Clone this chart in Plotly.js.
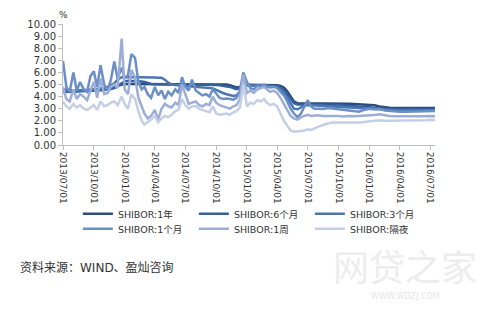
<!DOCTYPE html>
<html>
<head>
<meta charset="utf-8">
<script src="https://cdn.plot.ly/plotly-3.0.1.min.js"></script>
<style>html,body{margin:0;padding:0;background:#fff;}#chart{width:500px;height:309px;}</style>
</head>
<body>
<div id="chart"></div>
<script>
var dates = [
"2013-07-01","2013-07-11","2013-07-21","2013-08-01","2013-08-11","2013-08-21","2013-09-01","2013-09-11","2013-09-21",
"2013-10-01","2013-10-11","2013-10-21","2013-11-01","2013-11-11","2013-11-21","2013-12-01","2013-12-11","2013-12-23",
"2014-01-01","2014-01-11","2014-01-21","2014-02-01","2014-02-11","2014-02-21","2014-03-01","2014-03-11","2014-03-21",
"2014-04-01","2014-04-11","2014-04-21","2014-05-01","2014-05-11","2014-05-21","2014-06-01","2014-06-11","2014-06-21",
"2014-07-01","2014-07-11","2014-07-21","2014-08-01","2014-08-11","2014-08-21","2014-09-01","2014-09-11","2014-09-21",
"2014-10-01","2014-10-11","2014-10-21","2014-11-01","2014-11-11","2014-11-21","2014-12-01","2014-12-11","2014-12-21",
"2015-01-01","2015-01-11","2015-01-21","2015-02-01","2015-02-11","2015-02-21","2015-03-01","2015-03-11","2015-03-21",
"2015-04-01","2015-04-11","2015-04-21","2015-05-01","2015-05-11","2015-05-21","2015-06-01","2015-06-11","2015-06-21",
"2015-07-01","2015-07-11","2015-07-21","2015-08-01","2015-08-16","2015-09-01","2015-09-16","2015-10-01","2015-10-16",
"2015-11-01","2015-11-16","2015-12-01","2015-12-16","2016-01-01","2016-01-16","2016-02-01","2016-02-16","2016-03-01",
"2016-03-16","2016-04-01","2016-04-16","2016-05-01","2016-05-16","2016-06-01","2016-06-16","2016-07-01","2016-07-15"
];

var shibor1y = [
4.40,4.40,4.42,4.45,4.45,4.48,4.50,4.50,4.52,4.55,4.55,4.58,
4.62,4.65,4.68,4.75,4.90,5.00,
5.05,5.05,5.05,5.05,5.05,5.05,5.05,5.05,5.05,5.05,5.05,5.05,
5.05,5.05,5.05,5.05,5.05,5.05,5.05,5.05,5.05,5.05,5.05,5.04,5.03,5.03,5.03,5.02,5.02,5.00,5.00,4.95,4.85,
4.75,4.80,4.95,
4.98,4.98,4.98,4.98,4.97,4.97,4.95,4.95,4.95,4.93,4.88,4.75,
4.45,4.00,3.60,3.45,3.45,3.45,3.45,3.45,3.43,
3.45,3.45,3.44,3.43,3.42,3.42,3.40,3.38,3.36,3.35,3.33,3.28,3.18,3.10,3.08,3.06,3.05,3.05,3.05,3.05,3.05,3.05,3.05,3.05
];
var shibor6m = [
4.38,4.38,4.40,4.42,4.42,4.45,4.45,4.46,4.48,4.50,4.50,4.52,
4.55,4.58,4.62,4.70,4.85,5.10,
5.25,5.30,5.30,5.30,5.28,5.25,5.20,5.10,5.05,5.02,5.00,5.00,
5.00,5.00,5.00,5.00,5.00,5.00,5.00,5.00,5.00,5.00,5.00,4.98,4.98,4.98,4.97,4.95,4.93,4.90,4.88,4.80,4.70,
4.62,4.70,4.92,
4.95,4.93,4.92,4.92,4.92,4.92,4.90,4.90,4.88,4.85,4.75,4.55,
4.20,3.80,3.45,3.35,3.35,3.35,3.35,3.35,3.33,
3.33,3.32,3.32,3.30,3.28,3.26,3.22,3.20,3.18,3.15,3.12,3.05,3.00,2.98,2.96,2.95,2.95,2.95,2.95,2.95,2.95,2.95,2.95,2.95
];
var shibor3m = [
4.60,4.55,4.52,4.50,4.50,4.55,4.55,4.55,4.58,4.60,4.60,4.62,
4.70,4.80,4.95,5.10,5.40,5.60,
5.62,5.62,5.62,5.62,5.62,5.60,5.60,5.60,5.58,5.58,5.55,5.55,
5.40,5.15,5.00,4.95,4.92,4.90,4.88,4.85,4.82,4.80,4.78,4.75,4.72,4.70,4.68,4.55,4.40,4.30,4.20,4.10,4.05,
4.10,4.40,4.90,
4.95,4.92,4.90,4.90,4.92,4.92,4.90,4.90,4.88,4.80,4.60,4.30,
3.90,3.40,3.00,2.95,3.10,3.25,3.30,3.28,3.25,
3.25,3.22,3.20,3.18,3.15,3.12,3.10,3.08,3.05,3.02,3.00,2.97,2.92,2.88,2.86,2.85,2.85,2.85,2.85,2.86,2.86,2.86,2.87,2.88
];
var shibor1m = [
6.95,4.80,4.40,6.00,4.50,5.20,4.60,4.40,5.70,6.10,4.80,6.60,
5.00,4.50,5.40,6.90,5.50,6.40,
5.50,5.80,7.50,7.20,5.20,4.60,4.80,4.20,3.90,4.80,4.10,4.50,
3.80,4.40,4.10,4.60,4.30,5.60,4.80,4.50,5.40,4.50,4.30,4.10,4.20,4.00,4.60,4.20,3.90,3.80,3.85,3.80,3.75,
3.90,4.50,6.00,
5.20,4.70,4.60,4.90,4.80,5.00,4.80,4.75,4.80,4.70,4.40,4.10,
3.60,3.00,2.60,2.30,2.60,3.10,3.70,3.20,3.00,
3.00,2.98,3.05,3.00,2.98,2.95,2.85,2.80,2.75,2.90,3.00,2.95,3.00,2.85,2.80,2.78,2.75,2.75,2.75,2.76,2.76,2.77,2.78,2.80
];
var shibor1w = [
4.80,3.80,3.60,4.60,3.80,4.20,4.00,3.70,4.50,5.20,3.90,5.50,
4.20,4.30,4.80,5.00,4.70,8.80,
4.60,4.20,6.20,5.60,3.90,3.20,2.60,2.20,2.40,2.90,2.10,3.00,
3.40,3.20,3.10,3.50,3.30,5.00,4.20,3.40,3.50,3.60,3.30,3.20,3.40,3.30,4.00,3.50,3.30,3.20,3.10,3.00,3.20,
3.30,3.80,5.80,
4.30,4.50,4.30,4.60,4.70,4.80,4.60,4.40,4.50,4.30,3.90,3.40,
2.80,2.40,2.20,2.10,2.30,2.40,2.50,2.40,2.45,
2.45,2.40,2.40,2.45,2.40,2.35,2.40,2.38,2.40,2.45,2.50,2.48,2.55,2.45,2.40,2.38,2.35,2.38,2.37,2.36,2.37,2.38,2.40,2.38
];
var shiborOn = [
3.60,3.20,3.00,3.40,3.10,3.30,3.00,2.90,3.10,3.30,2.90,3.60,
3.20,3.30,3.50,3.60,3.30,4.00,
3.40,3.00,4.20,3.80,2.80,2.00,1.70,1.90,2.10,2.40,1.90,2.20,
2.40,2.30,2.50,2.80,2.90,3.80,3.30,3.00,3.20,3.20,3.00,2.90,2.80,2.70,3.20,2.60,2.50,2.55,2.60,2.50,2.70,
2.80,3.10,5.00,
3.20,3.50,3.40,3.70,3.60,3.80,3.50,3.30,3.40,3.20,2.60,2.00,
1.60,1.20,1.10,1.10,1.15,1.20,1.30,1.25,1.40,
1.50,1.65,1.80,1.85,1.85,1.80,1.80,1.82,1.85,1.90,1.95,2.00,2.05,2.00,1.98,2.00,2.02,2.02,2.00,2.02,2.03,2.05,2.08,2.07
];

var seriesNames = ["SHIBOR:1年","SHIBOR:6个月","SHIBOR:3个月","SHIBOR:1个月","SHIBOR:1周","SHIBOR:隔夜"];
var seriesValues = [shibor1y, shibor6m, shibor3m, shibor1m, shibor1w, shiborOn];
var seriesColors = ["#2a4d7f","#34619d","#4a77b4","#6b8fc7","#9caed8","#c4cee4"];

var tickDates = ["2013-07-01","2013-10-01","2014-01-01","2014-04-01","2014-07-01","2014-10-01","2015-01-01",
                 "2015-04-01","2015-07-01","2015-10-01","2016-01-01","2016-04-01","2016-07-01"];
var tickLabels = ["2013/07/01","2013/10/01","2014/01/01","2014/04/01","2014/07/01","2014/10/01","2015/01/01",
                  "2015/04/01","2015/07/01","2015/10/01","2016/01/01","2016/04/01","2016/07/01"];
var yTicks = [0,1,2,3,4,5,6,7,8,9,10];

var FONT = "DejaVu Sans, Noto Sans CJK SC, sans-serif";

var traces = seriesNames.map(function(name, i){
  return {
    type: "scatter", mode: "lines", name: name,
    x: dates, y: seriesValues[i],
    line: {color: seriesColors[i], width: 2.5},
    legend: i < 3 ? "legend" : "legend2",
    hoverinfo: "skip"
  };
});

var legendCommon = {
  orientation: "h", xanchor: "left", yanchor: "top",
  font: {family: FONT, size: 9.5, color: "#333"},
  entrywidth: 71, entrywidthmode: "pixels",
  itemwidth: 30, bgcolor: "rgba(0,0,0,0)", tracegroupgap: 0
};

var layout = {
  width: 500, height: 309,
  margin: {l: 63, r: 65, t: 24, b: 164},
  paper_bgcolor: "#fff", plot_bgcolor: "#fff",
  font: {family: FONT, color: "#333"},
  showlegend: true,
  legend: Object.assign({}, legendCommon, {x: 0.04, y: -0.449}),
  legend2: Object.assign({}, legendCommon, {x: 0.04, y: -0.573}),
  xaxis: {
    type: "date", range: ["2013-07-01", "2016-07-15"],
    tickvals: tickDates, ticktext: tickLabels, tickangle: 90,
    tickfont: {family: FONT, size: 9, color: "#333"},
    showgrid: false, zeroline: false,
    showline: true, linecolor: "#bfbfbf", linewidth: 1,
    ticks: "outside", ticklen: 4, tickcolor: "#bfbfbf"
  },
  yaxis: {
    range: [0, 10], tickvals: yTicks, tickformat: ".2f",
    tickfont: {family: FONT, size: 10, color: "#333"},
    showgrid: false, zeroline: false,
    showline: true, linecolor: "#bfbfbf", linewidth: 1,
    ticks: "outside", ticklen: 4, tickcolor: "#bfbfbf"
  },
  annotations: [
    {text: "%", xref: "paper", yref: "paper", x: 0, y: 1.074, xanchor: "center", yanchor: "middle",
     showarrow: false, font: {family: FONT, size: 9, color: "#333"}},
    {text: "资料来源：WIND、盈灿咨询", xref: "paper", yref: "paper", x: -0.1206, y: -1.016,
     xanchor: "left", yanchor: "middle", showarrow: false,
     font: {family: FONT, size: 12, color: "#333"}},
    {text: "网贷之家", xref: "paper", yref: "paper", x: 0.92, y: -0.99, xanchor: "center", yanchor: "middle",
     showarrow: false, font: {family: "Noto Sans CJK SC, sans-serif", size: 36, color: "#ededed"}},
    {text: "WWW.WDZJ.COM", xref: "paper", yref: "paper", x: 0.92, y: -1.256, xanchor: "center", yanchor: "middle",
     showarrow: false, font: {family: FONT, size: 8, color: "#e6e6e6"}}
  ]
};

Plotly.newPlot("chart", traces, layout, {staticPlot: true, displayModeBar: false});
</script>
</body>
</html>
